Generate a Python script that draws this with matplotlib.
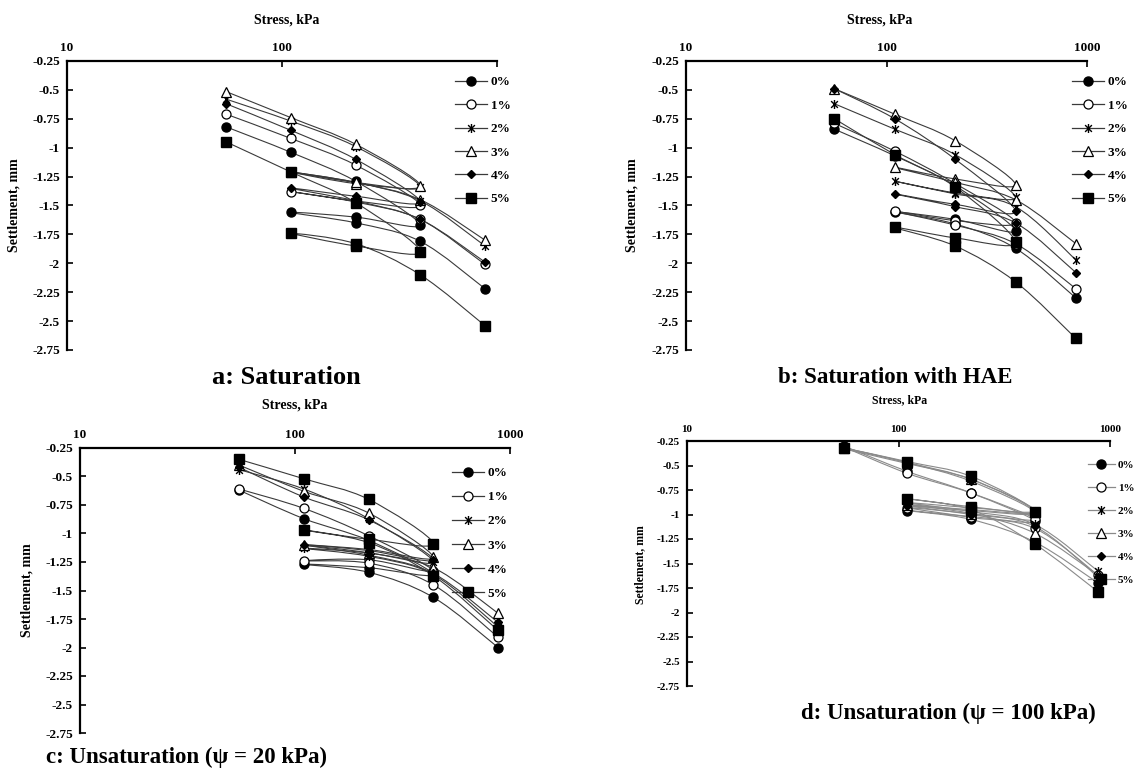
import numpy as np
import matplotlib
matplotlib.use("Agg")
import matplotlib.pyplot as plt
from matplotlib.path import Path
from matplotlib.patches import PathPatch
from matplotlib.lines import Line2D
from matplotlib.ticker import NullLocator

plt.rcParams['font.family'] = ['Liberation Serif', 'DejaVu Serif']
plt.rcParams['font.weight'] = 'bold'
plt.rcParams['mathtext.default'] = 'regular'

# ---------------- data ----------------
# loading / unloading / reloading sequence of applied stress (kPa)
stress = [55, 110, 220, 440, 220, 110, 220, 440, 880]
series_labels = ['0%', '1%', '2%', '3%', '4%', '5%']
x_ticks = [10, 100, 1000]
x_tick_labels = ['10', '100', '1000']
y_ticks = [-0.25, -0.5, -0.75, -1, -1.25, -1.5, -1.75, -2, -2.25, -2.5, -2.75]
y_tick_labels = ['-0.25', '-0.5', '-0.75', '-1', '-1.25', '-1.5', '-1.75',
                 '-2', '-2.25', '-2.5', '-2.75']

# a: Saturation (settlement, mm)
sat_0 = [-0.82, -1.04, -1.29, -1.67, -1.60, -1.56, -1.65, -1.81, -2.22]
sat_1 = [-0.71, -0.92, -1.15, -1.50, -1.46, -1.38, -1.47, -1.62, -2.01]
sat_2 = [-0.58, -0.77, -0.99, -1.34, -1.30, -1.21, -1.30, -1.46, -1.85]
sat_3 = [-0.515, -0.74, -0.97, -1.33, -1.31, -1.21, -1.30, -1.45, -1.80]
sat_4 = [-0.62, -0.85, -1.10, -1.47, -1.42, -1.35, -1.46, -1.62, -1.99]
sat_5 = [-0.95, -1.21, -1.475, -1.90, -1.85, -1.74, -1.83, -2.10, -2.54]

# b: Saturation with HAE
hae_0 = [-0.84, -1.07, -1.33, -1.72, -1.62, -1.555, -1.66, -1.87, -2.30]
hae_1 = [-0.79, -1.03, -1.31, -1.65, -1.63, -1.55, -1.67, -1.83, -2.22]
hae_2 = [-0.62, -0.84, -1.06, -1.43, -1.39, -1.29, -1.40, -1.51, -1.97]
hae_3 = [-0.49, -0.71, -0.94, -1.32, -1.27, -1.17, -1.30, -1.45, -1.83]
hae_4 = [-0.49, -0.75, -1.10, -1.55, -1.49, -1.40, -1.51, -1.65, -2.08]
hae_5 = [-0.75, -1.06, -1.34, -1.82, -1.78, -1.69, -1.85, -2.16, -2.65]

# c: Unsaturation (psi = 20 kPa)
u20_0 = [-0.62, -0.87, -1.06, -1.36, -1.30, -1.27, -1.34, -1.56, -2.00]
u20_1 = [-0.61, -0.78, -1.02, -1.33, -1.23, -1.24, -1.26, -1.45, -1.91]
u20_2 = [-0.44, -0.61, -0.87, -1.25, -1.17, -1.13, -1.20, -1.36, -1.82]
u20_3 = [-0.40, -0.63, -0.82, -1.21, -1.14, -1.10, -1.17, -1.30, -1.70]
u20_4 = [-0.42, -0.68, -0.88, -1.23, -1.15, -1.10, -1.19, -1.35, -1.78]
u20_5 = [-0.35, -0.52, -0.70, -1.09, -1.05, -0.97, -1.08, -1.37, -1.85]

# d: Unsaturation (psi = 100 kPa)
u100_0 = [-0.30, -0.56, -0.78, -1.07, -1.02, -0.96, -1.05, -1.28, -1.70]
u100_1 = [-0.31, -0.58, -0.78, -1.05, -0.99, -0.93, -1.03, -1.14, -1.62]
u100_2 = [-0.33, -0.48, -0.64, -0.96, -0.93, -0.88, -0.97, -1.10, -1.58]
u100_3 = [-0.32, -0.47, -0.64, -0.97, -0.95, -0.90, -0.99, -1.19, -1.62]
u100_4 = [-0.32, -0.47, -0.66, -0.98, -0.96, -0.91, -1.00, -1.12, -1.64]
u100_5 = [-0.32, -0.46, -0.61, -0.97, -0.92, -0.84, -0.95, -1.30, -1.79]

panel_series = [
    [sat_0, sat_1, sat_2, sat_3, sat_4, sat_5],
    [hae_0, hae_1, hae_2, hae_3, hae_4, hae_5],
    [u20_0, u20_1, u20_2, u20_3, u20_4, u20_5],
    [u100_0, u100_1, u100_2, u100_3, u100_4, u100_5],
]
captions = ['a: Saturation', 'b: Saturation with HAE',
            'c: Unsaturation (\u03c8 = 20 kPa)', 'd: Unsaturation (\u03c8 = 100 kPa)']

# ---------------- styling ----------------
W, H = 1135, 773
star = Path([(0, -1), (0, 1), (-0.75, -0.75), (0.75, 0.75), (-0.75, 0.75), (0.75, -0.75)],
            [Path.MOVETO, Path.LINETO] * 3)
marker_styles = [
    dict(marker='o', mfc='black', mec='black', ms=6.5),
    dict(marker='o', mfc='white', mec='black', ms=6.5, mew=0.9),
    dict(marker=star, mfc='none', mec='black', ms=6.5, mew=1.0),
    dict(marker='^', mfc='white', mec='black', ms=6.5, mew=0.9),
    dict(marker='D', mfc='black', mec='black', ms=4.5),
    dict(marker='s', mfc='black', mec='black', ms=6.5),
]

# panel boxes in pixels: left, right, top, bottom
boxes = [(67, 497, 61, 350), (686, 1087, 61, 350), (80, 510, 448, 733), (687, 1110, 441, 686)]
line_colors = ['#3a3a3a', '#3a3a3a', '#3a3a3a', '#8a8a8a']
tick_fs = [9.5, 9.5, 9.5, 8]
stress_title_pos = [(287, 20), (880, 20), (295, 405), (900, 400)]
ylabel_pos = [(14, 205), (632, 205), (27, 590), (640, 565)]
caption_pos = [(286, 377), (895, 377), (186, 757), (948, 713)]
caption_fs = [19, 16.5, 16.5, 16.5]
legend_anchor = [(455, 76), (1072, 76), (452, 467), (1088, 460)]
legend_spacing = [0.85, 0.85, 0.9, 1.2]
show_1000 = [False, True, True, True]


def smooth_path(xs, ys):
    P = np.column_stack([np.log10(np.asarray(xs, float)), np.asarray(ys, float)])
    n = len(P)
    verts = [P[0]]
    codes = [Path.MOVETO]
    for i in range(n - 1):
        p0 = P[i - 1] if i > 0 else P[i]
        p1, p2 = P[i], P[i + 1]
        p3 = P[i + 2] if i + 2 < n else P[i + 1]
        verts += [p1 + (p2 - p0) / 6.0, p2 - (p3 - p1) / 6.0, p2]
        codes += [Path.CURVE4] * 3
    V = np.array(verts)
    V[:, 0] = 10 ** V[:, 0]
    return Path(V, codes)


fig = plt.figure(figsize=(W / 100, H / 100), dpi=100)

for k in range(4):
    l, r, t, b = boxes[k]
    ax = fig.add_axes([l / W, 1 - b / H, (r - l) / W, (b - t) / H])
    ax.set_xscale('log')
    ax.set_xlim(10, 1000)
    ax.set_ylim(-2.75, -0.25)
    ax.patch.set_alpha(0)
    for s in ['right', 'bottom']:
        ax.spines[s].set_visible(False)
    for s in ['left', 'top']:
        ax.spines[s].set_linewidth(1.6)
        ax.spines[s].set_color('black')
    ax.xaxis.tick_top()
    ax.set_xticks(x_ticks)
    labs = list(x_tick_labels)
    if not show_1000[k]:
        labs[-1] = ''
    ax.set_xticklabels(labs)
    ax.xaxis.set_minor_locator(NullLocator())
    ax.set_yticks(y_ticks)
    ax.set_yticklabels(y_tick_labels)
    ax.tick_params(axis='both', which='major', direction='in', length=4, width=1.2,
                   labelsize=tick_fs[k], pad=5)
    for lab in ax.get_xticklabels() + ax.get_yticklabels():
        lab.set_fontweight('bold')

    handles = []
    for j, ys in enumerate(panel_series[k]):
        ax.add_patch(PathPatch(smooth_path(stress, ys), facecolor='none',
                               edgecolor=line_colors[k], lw=0.8, zorder=2))
        st = marker_styles[j]
        ax.plot(stress, ys, linestyle='none', zorder=3, clip_on=False, **st)
        handles.append(Line2D([], [], color=line_colors[k], lw=0.9, **st))

    x0, y0 = legend_anchor[k]
    fig.legend(handles, series_labels, loc='upper left',
               bbox_to_anchor=(x0 / W, 1 - y0 / H), frameon=False, numpoints=1,
               handlelength=2.4, handletextpad=0.3, labelspacing=legend_spacing[k],
               borderaxespad=0, borderpad=0,
               prop=dict(family='Liberation Serif', weight='bold', size=tick_fs[k]))

    sx, sy = stress_title_pos[k]
    fig.text(sx / W, 1 - sy / H, 'Stress, kPa', ha='center', va='center',
             fontsize=tick_fs[k] + 0.5, fontweight='bold')
    lx, ly = ylabel_pos[k]
    fig.text(lx / W, 1 - ly / H, 'Settlement, mm', ha='center', va='center',
             rotation=90, fontsize=tick_fs[k] + 0.5, fontweight='bold')
    cx, cy = caption_pos[k]
    fig.text(cx / W, 1 - cy / H, captions[k], ha='center', va='center',
             fontsize=caption_fs[k], fontweight='bold')

fig.savefig('out.png', dpi=100, facecolor='white')
